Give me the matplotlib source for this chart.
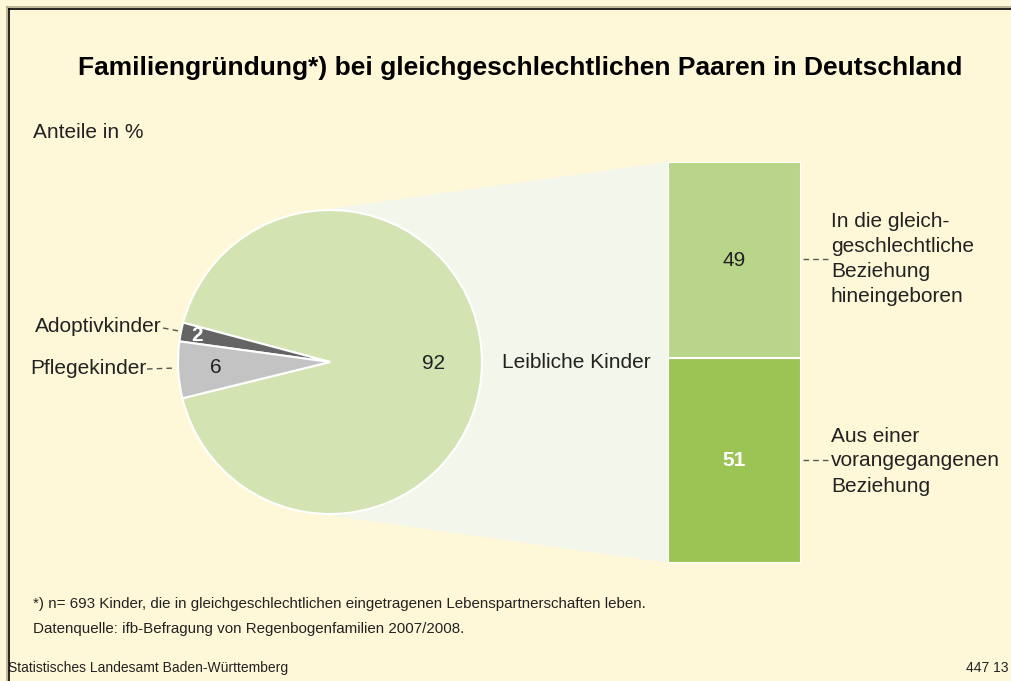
"""
Familiengründung bei gleichgeschlechtlichen Paaren: pie of all children
with the 'Leibliche Kinder' share broken out into a stacked bar.

Output: out.png (1011 x 681 px)
"""
import numpy as np
import matplotlib

matplotlib.use("Agg")
import matplotlib.pyplot as plt
from matplotlib.patches import Polygon
from matplotlib.lines import Line2D

# --- data -------------------------------------------------------------------
pie_labels = ["Leibliche Kinder", "Adoptivkinder", "Pflegekinder"]
pie_values = [92, 2, 6]
bar_labels = ["Aus einer\nvorangegangenen\nBeziehung",
              "In die gleich-\ngeschlechtliche\nBeziehung\nhineingeboren"]
bar_values = [51, 49]

# --- styling ----------------------------------------------------------------
W, H = 1011, 681
BG = "#fff8d8"
LINK = "#f3f6ea"
TXT = "#222222"
DASH = (0, (4, 3))
pie_colors = ["#d3e3b2", "#646464", "#c3c3c3"]
bar_colors = ["#9bc455", "#b8d58a"]
plt.rcParams["font.family"] = ["Liberation Sans", "DejaVu Sans"]
FS = 15


def fy(y):
    # pixel row (from top) -> data y (from bottom)
    return H - y


def main():
    fig = plt.figure(figsize=(W / 100, H / 100), dpi=100, facecolor=BG)
    ax = fig.add_axes([0, 0, 1, 1])
    ax.set_facecolor(BG)

    # pie
    cx, cy, R = 330, fy(362), 152
    wedges, _ = ax.pie(pie_values, colors=pie_colors, startangle=193.8,
                       center=(cx, cy), radius=R, counterclock=True,
                       wedgeprops=dict(edgecolor="white", linewidth=1.5))
    for w in wedges:
        w.set_zorder(3)
    ax.set_xlim(0, W)
    ax.set_ylim(0, H)
    ax.set_aspect("auto")
    ax.axis("off")

    # bar area in pixel coords
    bx0, bx1, by0, by1 = 668, 801, 162, 563
    axb = fig.add_axes([bx0 / W, fy(by1) / H, (bx1 - bx0) / W, (by1 - by0) / H])
    bottom = 0
    for v, c in zip(bar_values, bar_colors):
        axb.bar(0, v, width=1.0, bottom=bottom, color=c,
                edgecolor="white", linewidth=1.5)
        bottom += v
    axb.set_xlim(-0.5, 0.5)
    axb.set_ylim(0, sum(bar_values))
    axb.axis("off")

    # link polygon from pie to bar
    a = np.deg2rad(100)
    tx, ty = cx + R * np.cos(a), R * np.sin(a)
    link = Polygon([(tx, cy + ty), (bx0, fy(by0)), (bx0, fy(by1)), (tx, cy - ty)],
                   closed=True, facecolor=LINK, edgecolor="none", zorder=1)
    ax.add_patch(link)

    # pie value labels
    rfrac = [0.68, 0.89, 0.75]
    for w, v, rf in zip(wedges, pie_values, rfrac):
        mid = np.deg2rad((w.theta1 + w.theta2) / 2)
        px, py = cx + rf * R * np.cos(mid), cy + rf * R * np.sin(mid)
        if v == 2:
            ax.text(px, py, str(v), color="white", fontsize=FS,
                    fontweight="bold", ha="center", va="center", zorder=5)
        else:
            ax.text(px, py, str(v), color=TXT, fontsize=FS,
                    ha="center", va="center", zorder=5)

    ax.text(502, fy(362), pie_labels[0], fontsize=FS, color=TXT,
            ha="left", va="center")

    # left labels with dashed leaders
    ax.text(162, fy(327), pie_labels[1], fontsize=FS, color=TXT,
            ha="right", va="center")
    ax.plot([163, 179], [fy(328), fy(331)], ls=DASH, color="#555555", lw=1)
    ax.text(146, fy(369), pie_labels[2], fontsize=FS, color=TXT,
            ha="right", va="center")
    ax.plot([147, 176], [fy(369), fy(368)], ls=DASH, color="#555555", lw=1)

    # bar value labels
    cum = 0
    for i, v in enumerate(bar_values):
        mid = cum + v / 2
        cum += v
        if i == 0:
            axb.text(0, mid, str(v), color="white", fontweight="bold",
                     fontsize=FS, ha="center", va="center")
        else:
            axb.text(0, mid, str(v), color=TXT, fontsize=FS,
                     ha="center", va="center")

    # right labels with dashed leaders
    ax.plot([803, 830], [fy(460), fy(460)], ls=DASH, color="#555555", lw=1)
    ax.text(831, fy(461), bar_labels[0], fontsize=FS, color=TXT,
            ha="left", va="center", linespacing=1.4)
    ax.plot([803, 830], [fy(259), fy(259)], ls=DASH, color="#555555", lw=1)
    ax.text(831, fy(259), bar_labels[1], fontsize=FS, color=TXT,
            ha="left", va="center", linespacing=1.4)

    # titles and notes
    ax.text(520, fy(68), "Familiengründung*) bei gleichgeschlechtlichen Paaren in Deutschland",
            fontsize=19, fontweight="bold", ha="center", va="center", color="black")
    ax.text(33, fy(133), "Anteile in %", fontsize=FS, ha="left", va="center",
            color=TXT)
    ax.text(33, fy(604), "*) n= 693 Kinder, die in gleichgeschlechtlichen eingetragenen "
            "Lebenspartnerschaften leben.", fontsize=10.9, ha="left", va="center",
            color=TXT)
    ax.text(33, fy(629), "Datenquelle: ifb-Befragung von Regenbogenfamilien 2007/2008.",
            fontsize=10.9, ha="left", va="center", color=TXT)
    ax.text(8, fy(668), "Statistisches Landesamt Baden-Württemberg", fontsize=10,
            ha="left", va="center", color=TXT)
    ax.text(1008, fy(668), "447 13", fontsize=10, ha="right", va="center",
            color=TXT)

    # frame (top and left only, with soft shadow)
    fig.add_artist(Line2D([7 / W, 1], [fy(7) / H] * 2, color="#b3ab8c", lw=1.2))
    fig.add_artist(Line2D([7 / W] * 2, [0, fy(7) / H], color="#b3ab8c", lw=1.2))
    fig.add_artist(Line2D([9 / W, 1], [fy(9) / H] * 2, color="black", lw=1.2))
    fig.add_artist(Line2D([9 / W] * 2, [0, fy(9) / H], color="black", lw=1.2))

    fig.savefig("out.png", dpi=100, facecolor=BG)


if __name__ == "__main__":
    main()
